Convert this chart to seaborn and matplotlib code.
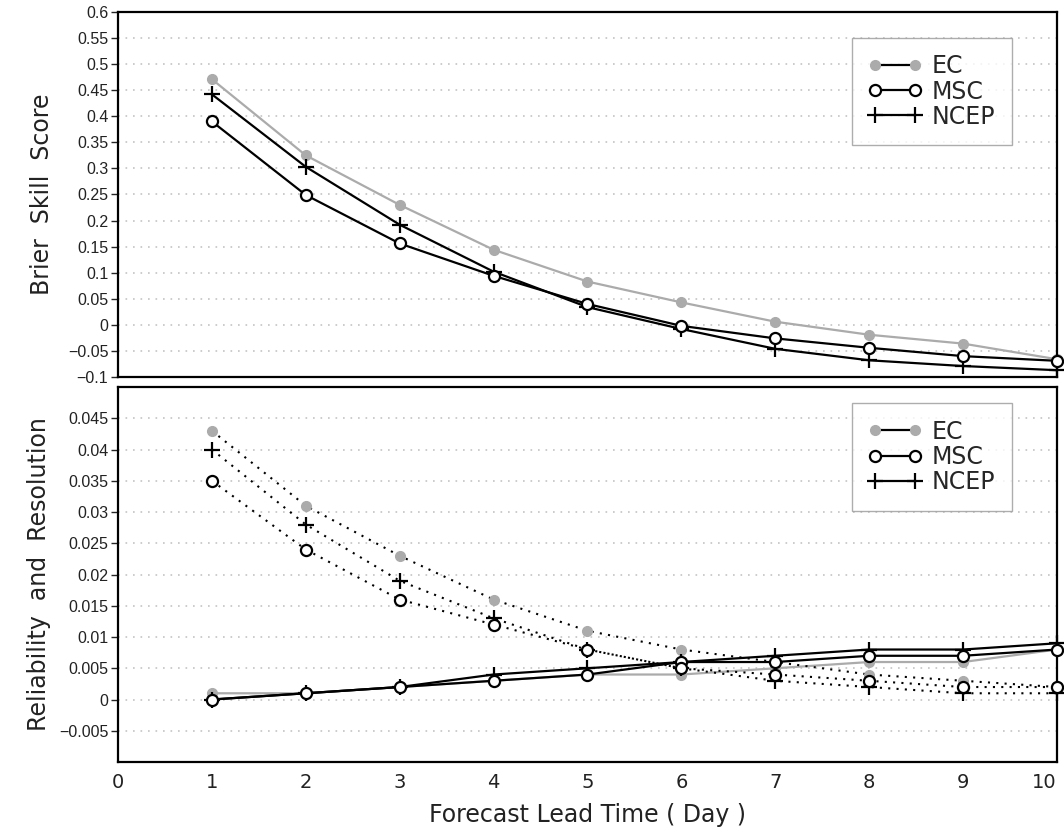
import numpy as np
import pandas as pd
import matplotlib.pyplot as plt
from matplotlib.lines import Line2D
import seaborn as sns

# --- Data ---
days = [1, 2, 3, 4, 5, 6, 7, 8, 9, 10]

bss_ec   = [0.471, 0.325, 0.230, 0.144, 0.083, 0.043, 0.006, -0.019, -0.036, -0.066]
bss_msc  = [0.390, 0.249, 0.156, 0.094, 0.040, -0.002, -0.026, -0.044, -0.060, -0.069]
bss_ncep = [0.442, 0.303, 0.192, 0.102, 0.034, -0.008, -0.046, -0.068, -0.079, -0.087]

# solid lines (reliability)
rel_ec   = [0.001, 0.001, 0.002, 0.003, 0.004, 0.004, 0.005, 0.006, 0.006, 0.008]
rel_msc  = [0.000, 0.001, 0.002, 0.003, 0.004, 0.006, 0.006, 0.007, 0.007, 0.008]
rel_ncep = [0.000, 0.001, 0.002, 0.004, 0.005, 0.006, 0.007, 0.008, 0.008, 0.009]

# dotted lines (resolution)
res_ec   = [0.043, 0.031, 0.023, 0.016, 0.011, 0.008, 0.006, 0.004, 0.003, 0.002]
res_msc  = [0.035, 0.024, 0.016, 0.012, 0.008, 0.005, 0.004, 0.003, 0.002, 0.002]
res_ncep = [0.040, 0.028, 0.019, 0.013, 0.008, 0.005, 0.003, 0.002, 0.001, 0.001]

models = ["EC", "MSC", "NCEP"]
x_ticks = [0, 1, 2, 3, 4, 5, 6, 7, 8, 9, 10]
top_ticks = [-0.1, -0.05, 0, 0.05, 0.1, 0.15, 0.2, 0.25, 0.3, 0.35, 0.4, 0.45, 0.5, 0.55, 0.6]
bot_ticks = [-0.005, 0, 0.005, 0.01, 0.015, 0.02, 0.025, 0.03, 0.035, 0.04, 0.045]

# --- Styling ---
sns.set_theme(style="white")
plt.rcParams["font.family"] = ["DejaVu Sans"]
plt.rcParams["axes.unicode_minus"] = True

GRAY = "#ababab"
STYLE = {
    "EC":   dict(color=GRAY, marker="o", markersize=7, markerfacecolor=GRAY,
                 markeredgecolor=GRAY, markeredgewidth=1.0, linewidth=1.6, zorder=2),
    "MSC":  dict(color="black", marker="o", markersize=8, markerfacecolor="white",
                 markeredgecolor="black", markeredgewidth=1.6, linewidth=1.6, zorder=4),
    "NCEP": dict(color="black", marker="+", markersize=11, markerfacecolor="black",
                 markeredgecolor="black", markeredgewidth=1.6, linewidth=1.6, zorder=3),
}

fig = plt.figure(figsize=(10.64, 8.3), dpi=100)
ax1 = fig.add_axes([0.1109, 0.5458, 0.8825, 0.4398])
ax2 = fig.add_axes([0.1109, 0.0819, 0.8825, 0.4518])


def fmt(v):
    s = f"{v:g}"
    return s.replace("-", "\u2212")


def style_axes(ax, ticks, lim):
    ax.set_xlim(0, 10)
    ax.set_ylim(*lim)
    ax.set_yticks(ticks)
    ax.set_yticklabels([fmt(t) for t in ticks], fontsize=11.5,
                       family=["Liberation Sans", "DejaVu Sans"], color="#222222")
    for t in ticks:
        if lim[0] < t < lim[1]:
            ax.axhline(t, color="#c4c4c4", lw=1.2, ls=(0, (1, 3.5)), zorder=0)
    for sp in ax.spines.values():
        sp.set_color("black")
        sp.set_linewidth(1.6)
    ax.tick_params(axis="y", direction="out", length=5, width=1.0, left=True, pad=2)
    ax.grid(False)


def add_legend(ax, anchor):
    handles = [Line2D([0], [0], color="black", lw=1.6,
                      **{k: v for k, v in STYLE[m].items()
                         if k not in ("color", "linewidth", "zorder")})
               for m in models]
    leg = ax.legend(handles, models, loc="upper right", bbox_to_anchor=anchor,
                    numpoints=2, handlelength=2.3, handletextpad=0.4,
                    labelspacing=0.05, fontsize=17, frameon=True, fancybox=False,
                    borderpad=0.7, borderaxespad=0)
    leg.get_frame().set_edgecolor("#999999")
    leg.get_frame().set_linewidth(1.0)
    leg.set_zorder(10)


# --- Top panel: Brier Skill Score ---
for m, vals in zip(models, [bss_ec, bss_msc, bss_ncep]):
    sns.lineplot(x=days, y=vals, ax=ax1, legend=False, clip_on=False, **STYLE[m])
style_axes(ax1, top_ticks, (-0.1, 0.6))
ax1.set_xticks(x_ticks)
ax1.tick_params(axis="x", bottom=False, labelbottom=False)
ax1.set_ylabel("Brier  Skill  Score", fontsize=17, labelpad=10, color="#222222")
add_legend(ax1, (0.952, 0.929))

# --- Bottom panel: Reliability and Resolution ---
for m, vals in zip(models, [rel_ec, rel_msc, rel_ncep]):
    sns.lineplot(x=days, y=vals, ax=ax2, legend=False, clip_on=False, **STYLE[m])
for m, vals in zip(models, [res_ec, res_msc, res_ncep]):
    st = dict(STYLE[m])
    st["color"] = "black"
    st["linewidth"] = 1.5
    sns.lineplot(x=days, y=vals, ax=ax2, legend=False, clip_on=False,
                 linestyle=(0, (1, 3)), **st)
style_axes(ax2, bot_ticks, (-0.01, 0.05))
ax2.tick_params(axis="x", bottom=True, direction="out", length=0, pad=8)
ax2.set_xticks(x_ticks)
labels = ax2.set_xticklabels([str(d) for d in x_ticks], fontsize=14,
                             family=["Liberation Sans Narrow", "DejaVu Sans"],
                             color="#222222")
# the last label sits on the right edge of the figure; keep it inside
labels[-1].set_horizontalalignment("right")
ax2.set_ylabel("Reliability  and  Resolution", fontsize=17, labelpad=6, color="#222222")
ax2.set_xlabel("Forecast Lead Time ( Day )", fontsize=17, labelpad=8, color="#222222",
               family=["Liberation Sans Narrow", "DejaVu Sans"])
add_legend(ax2, (0.952, 0.957))

fig.savefig("out.png", dpi=100)
